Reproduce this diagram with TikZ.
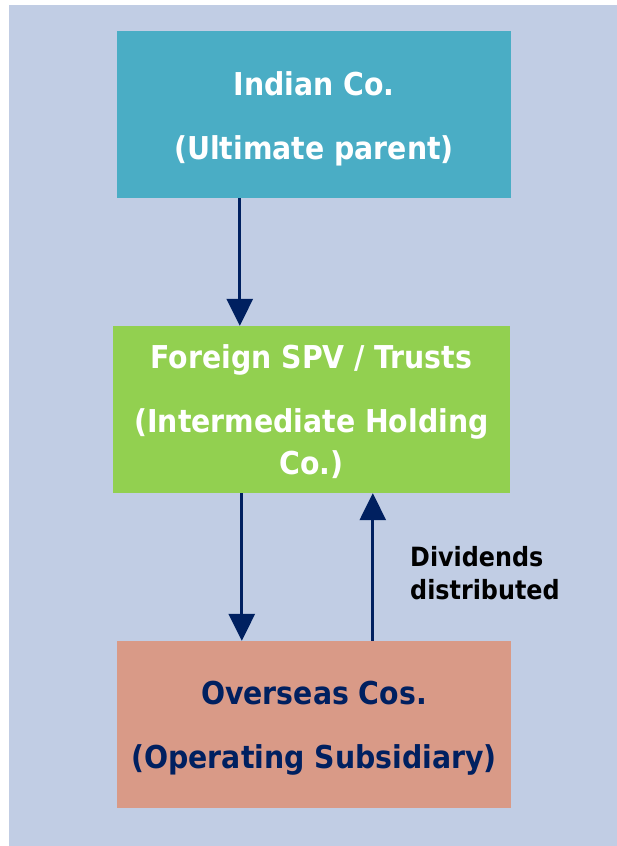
\documentclass[tikz,border=0pt]{standalone}
\usepackage{fontspec}
\setmainfont{DejaVu Sans Condensed}
\usetikzlibrary{arrows.meta}
\definecolor{bgblue}{HTML}{C1CDE4}
\definecolor{teal1}{HTML}{4AADC5}
\definecolor{green1}{HTML}{92D050}
\definecolor{salmon1}{HTML}{D99A87}
\definecolor{navy1}{HTML}{002060}
\tikzset{
  box/.style={rectangle, minimum width=394pt, minimum height=167pt, inner sep=0pt},
  boxtext/.style={inner sep=0pt, align=center, font=\fontsize{31.5pt}{42pt}\selectfont\bfseries},
  arr/.style={draw=navy1, line width=3pt, -{Triangle[width=26pt,length=27pt]}}
}
\begin{document}
\begin{tikzpicture}[x=1pt,y=-1pt]
\useasboundingbox (0,0) rectangle (617,846);
\fill[white] (0,0) rectangle (617,846);
\fill[bgblue] (9,5) rectangle (617,846);
\node[box, fill=teal1] (indian) at (314,114.5) {};
\node[boxtext, text=white, yshift=-4pt] (indiantext) at (indian.center) {Indian Co.\\[22pt](Ultimate parent)};
\node[box, fill=green1, minimum width=397pt] (foreign) at (311.5,409.5) {};
\node[boxtext, text=white, yshift=-2pt] (foreigntext) at (foreign.center) {Foreign SPV / Trusts\\[22pt](Intermediate Holding\\Co.)};
\node[box, fill=salmon1] (overseas) at (314,724.5) {};
\node[boxtext, text=navy1, yshift=-4pt] (overseastext) at (overseas.center) {Overseas Cos.\\[22pt](Operating Subsidiary)};
\node[anchor=west, align=left, inner sep=0pt, font=\fontsize{26.5pt}{33pt}\selectfont\bfseries] (div) at (410,573) {Dividends\\distributed};
\draw[arr] ([xshift=123pt]indian.south west) -- ([xshift=127pt]foreign.north west);
\draw[arr] ([xshift=129pt]foreign.south west) -- ([xshift=125pt]overseas.north west);
\draw[arr] ([xshift=256pt]overseas.north west) -- ([xshift=260pt]foreign.south west);
\end{tikzpicture}
\end{document}
